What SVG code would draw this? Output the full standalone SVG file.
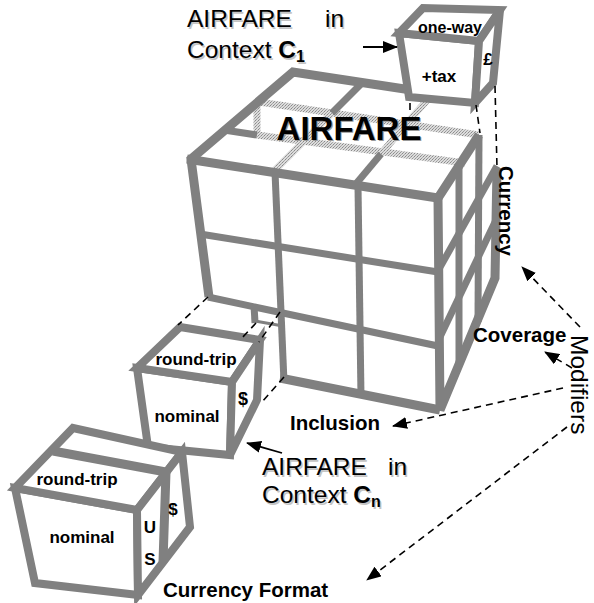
<svg xmlns="http://www.w3.org/2000/svg" width="594" height="603" viewBox="0 0 594 603">
<defs>
<pattern id="hatch" width="3" height="3" patternUnits="userSpaceOnUse">
<rect width="3" height="3" fill="#dcdcdc"/>
<rect x="0" y="0" width="1" height="1" fill="#8a8a8a"/>
<rect x="2" y="1" width="1" height="1" fill="#a8a8a8"/>
<rect x="1" y="2" width="1" height="1" fill="#9a9a9a"/>
</pattern>
<marker id="ah" markerWidth="15" markerHeight="12" refX="14" refY="6" orient="auto" markerUnits="userSpaceOnUse"><path d="M0,0 L15,6 L0,12 z" fill="#000"/></marker>
</defs>
<style>
.e{fill:none;stroke:#808080;stroke-width:9;stroke-linejoin:miter}
.i{fill:none;stroke:#808080;stroke-width:7}
.h{fill:none;stroke:url(#hatch);stroke-width:7}
.c{fill:#fff;stroke:#808080;stroke-width:8;stroke-linejoin:miter}
.d{fill:none;stroke:#000;stroke-width:1.6;stroke-dasharray:7 5}
.a{fill:none;stroke:#000;stroke-width:1.8}
.t{font-family:"Liberation Sans",Arial,Helvetica,sans-serif;fill:#000}
.s{font-family:"Liberation Sans",Arial,Helvetica,sans-serif;fill:#c4c4c4}
.b{font-weight:bold}
</style>
<rect width="594" height="603" fill="#fff"/>

<g id="main-cube">
  <path class="h" d="M259,102 L479,135"/>
  <path class="h" d="M257,135 L465,163"/>
  <path class="h" d="M257,104 L257,136"/>
  <path class="h" d="M332,113 L273,172"/>
  <path class="h" d="M406,124 L381,154"/>
  <path class="h" d="M431,96 L406,124"/>
  <path class="i" d="M224,130 L257,135"/>
  <path class="i" d="M362,83 L332,113"/>
  <path class="i" d="M381,154 L355,185"/>
  <path class="e" d="M209,297 L191,159 L293,72 L431,93"/>
  <path class="e" d="M187,159 L438,198 L479,135"/>
  <path class="i" d="M200,234 L438,272"/>
  <path class="i" d="M208,297 L438,346"/>
  <path class="i" d="M275,172 L284,382"/>
  <path class="i" d="M358,186 L361,397"/>
  <path class="e" d="M280,378 L440,410"/>
  <path class="i" d="M254,305 L255,323"/>
  <path stroke="#808080" stroke-width="3" d="M255,321 L283,326"/>
  <path class="i" d="M459,167 L459,366"/>
  <path class="i" d="M479,135 L478,322"/>
  <path class="i" d="M439,269 L497,166"/>
  <path class="i" d="M439,339 L496,220"/>
  <path class="e" d="M438,198 L440,410 L495,278 L497,168"/>
  <text class="t b" x="349" y="140" font-size="33" text-anchor="middle" style="fill:#999" dx="1.2" dy="1.2">AIRFARE</text>
  <text class="t b" x="349" y="140" font-size="33" text-anchor="middle">AIRFARE</text>
</g>

<g id="cube-c1">
  <path class="c" d="M399,33 L479,41 L475,103 L409,97 Z"/>
  <path class="c" d="M399,33 L423,8 L500,10 L479,41 Z"/>
  <path class="c" d="M479,41 L500,10 L493,83 L475,103 Z"/>
  <text class="t b" x="450" y="33" font-size="16" text-anchor="middle">one-way</text>
  <text class="t b" x="488" y="65" font-size="17" text-anchor="middle">£</text>
  <text class="t b" x="439" y="82" font-size="17" text-anchor="middle">+tax</text>
</g>

<g id="cube-cn">
  <path class="c" d="M137,368 L232,382 L230,455 L148,447 Z"/>
  <path class="c" d="M180,327 L260,340 L232,382 L137,368 Z"/>
  <path class="c" d="M232,382 L260,340 L257,400 L230,455 Z"/>
  <text class="t b" x="196" y="365" font-size="17" text-anchor="middle">round-trip</text>
  <text class="t b" x="187" y="422" font-size="17" text-anchor="middle">nominal</text>
  <text class="t b" x="243" y="405" font-size="18" text-anchor="middle">$</text>
</g>

<g id="cube-format">
  <path class="c" d="M15,488 L137,510 L138,595 L35,583 Z"/>
  <path class="c" d="M73,428 L182,452 L137,510 L15,488 Z"/>
  <path class="c" d="M137,510 L182,452 L190,527 L138,595 Z"/>
  <path class="e" d="M53,451 L166,472 L163,562"/>
  <text class="t b" x="77" y="485" font-size="17" text-anchor="middle">round-trip</text>
  <text class="t b" x="82" y="543" font-size="17" text-anchor="middle">nominal</text>
  <text class="t b" x="150" y="533" font-size="17" text-anchor="middle">U</text>
  <text class="t b" x="150" y="565" font-size="17" text-anchor="middle">S</text>
  <text class="t b" x="173" y="515" font-size="17" text-anchor="middle">$</text>
</g>

<g id="connectors">
  <path class="d" d="M410,103 L410,112"/>
  <path class="d" d="M476,105 L480,133"/>
  <path class="d" d="M495,86 L497,168"/>
  <path class="d" d="M208,297 L178,325"/>
  <path class="d" d="M280,312 L259,342"/>
  <path class="d" d="M256,323 L240,340"/>
  <path class="d" d="M284,377 L262,402"/>
  <path class="a" d="M363,47 L397,47" marker-end="url(#ah)"/>
  <path class="a" d="M282,453 L247,443" marker-end="url(#ah)"/>
  <path class="d" d="M580,327 L522,267" marker-end="url(#ah)"/>
  <path class="d" d="M572,368 L545,352" marker-end="url(#ah)"/>
  <path class="d" d="M563,388 L393,426" marker-end="url(#ah)"/>
  <path class="d" d="M567,427 L367,580" marker-end="url(#ah)"/>
</g>

<g id="label-c1">
  <g transform="translate(1.5,1.5)">
    <text class="s" x="187" y="27" font-size="24.5">AIRFARE</text>
    <text class="s" x="325" y="27" font-size="24.5">in</text>
    <text class="s" x="187" y="58" font-size="24.5">Context <tspan font-weight="bold">C</tspan><tspan font-weight="bold" font-size="16" dy="4">1</tspan></text>
  </g>
  <text class="t" x="187" y="27" font-size="24.5">AIRFARE</text>
  <text class="t" x="325" y="27" font-size="24.5">in</text>
  <text class="t" x="187" y="58" font-size="24.5">Context <tspan font-weight="bold">C</tspan><tspan font-weight="bold" font-size="16" dy="4">1</tspan></text>
</g>

<g id="label-cn">
  <g transform="translate(1.5,1.5)">
    <text class="s" x="262" y="475" font-size="24.5">AIRFARE</text>
    <text class="s" x="388" y="475" font-size="24.5">in</text>
    <text class="s" x="262" y="503" font-size="24.5">Context <tspan font-weight="bold">C</tspan><tspan font-weight="bold" font-size="16" dy="4">n</tspan></text>
  </g>
  <text class="t" x="262" y="475" font-size="24.5">AIRFARE</text>
  <text class="t" x="388" y="475" font-size="24.5">in</text>
  <text class="t" x="262" y="503" font-size="24.5">Context <tspan font-weight="bold">C</tspan><tspan font-weight="bold" font-size="16" dy="4">n</tspan></text>
</g>

<g id="modifier-labels">
  <text class="t b" font-size="20.5" transform="translate(499,166) rotate(90)">Currency</text>
  <text class="t b" x="473" y="342" font-size="20.5">Coverage</text>
  <text class="t b" x="290" y="430" font-size="20.5">Inclusion</text>
  <text class="t b" x="163" y="597" font-size="20.5">Currency Format</text>
  <text class="t" font-size="24.5" transform="translate(571,335) rotate(90)">Modifiers</text>
</g>
</svg>
